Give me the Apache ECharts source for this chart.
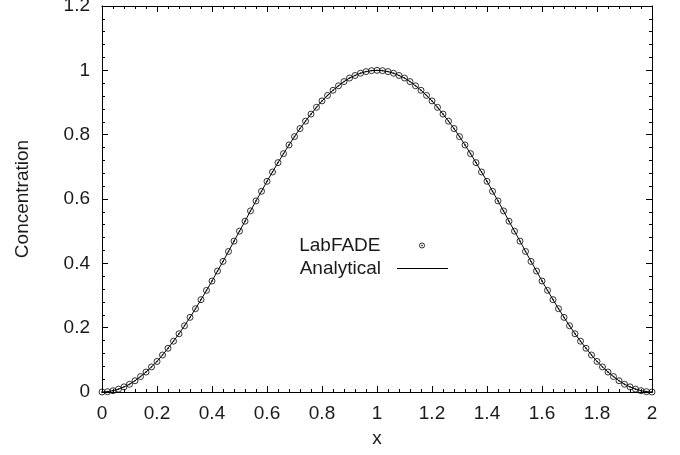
<!DOCTYPE html>
<html>
<head>
<meta charset="utf-8">
<script src="https://cdn.jsdelivr.net/npm/echarts@6/dist/echarts.min.js"></script>
<style>html,body{margin:0;padding:0;background:#fff}#c{width:680px;height:455px}</style>
</head>
<body>
<div id="c"></div>
<script>
const xs = [0.00,0.02,0.04,0.06,0.08,0.10,0.12,0.14,0.16,0.18,0.20,0.22,0.24,0.26,0.28,0.30,0.32,0.34,0.36,0.38,0.40,0.42,0.44,0.46,0.48,0.50,0.52,0.54,0.56,0.58,0.60,0.62,0.64,0.66,0.68,0.70,0.72,0.74,0.76,0.78,0.80,0.82,0.84,0.86,0.88,0.90,0.92,0.94,0.96,0.98,1.00,1.02,1.04,1.06,1.08,1.10,1.12,1.14,1.16,1.18,1.20,1.22,1.24,1.26,1.28,1.30,1.32,1.34,1.36,1.38,1.40,1.42,1.44,1.46,1.48,1.50,1.52,1.54,1.56,1.58,1.60,1.62,1.64,1.66,1.68,1.70,1.72,1.74,1.76,1.78,1.80,1.82,1.84,1.86,1.88,1.90,1.92,1.94,1.96,1.98,2.00];
const labfade = [0.000,0.001,0.004,0.009,0.016,0.024,0.035,0.048,0.062,0.078,0.095,0.115,0.136,0.158,0.181,0.206,0.232,0.259,0.287,0.316,0.345,0.376,0.406,0.437,0.469,0.500,0.531,0.563,0.594,0.624,0.655,0.684,0.713,0.741,0.768,0.794,0.819,0.842,0.864,0.885,0.905,0.922,0.938,0.952,0.965,0.976,0.984,0.991,0.996,0.999,1.000,0.999,0.996,0.991,0.984,0.976,0.965,0.952,0.938,0.922,0.905,0.885,0.864,0.842,0.819,0.794,0.768,0.741,0.713,0.684,0.655,0.624,0.594,0.563,0.531,0.500,0.469,0.437,0.406,0.376,0.345,0.316,0.287,0.259,0.232,0.206,0.181,0.158,0.136,0.115,0.095,0.078,0.062,0.048,0.035,0.024,0.016,0.009,0.004,0.001,0.000];
const analytical = [0.000,0.001,0.004,0.009,0.016,0.024,0.035,0.048,0.062,0.078,0.095,0.115,0.136,0.158,0.181,0.206,0.232,0.259,0.287,0.316,0.345,0.376,0.406,0.437,0.469,0.500,0.531,0.563,0.594,0.624,0.655,0.684,0.713,0.741,0.768,0.794,0.819,0.842,0.864,0.885,0.905,0.922,0.938,0.952,0.965,0.976,0.984,0.991,0.996,0.999,1.000,0.999,0.996,0.991,0.984,0.976,0.965,0.952,0.938,0.922,0.905,0.885,0.864,0.842,0.819,0.794,0.768,0.741,0.713,0.684,0.655,0.624,0.594,0.563,0.531,0.500,0.469,0.437,0.406,0.376,0.345,0.316,0.287,0.259,0.232,0.206,0.181,0.158,0.136,0.115,0.095,0.078,0.062,0.048,0.035,0.024,0.016,0.009,0.004,0.001,0.000];
const seriesNames = ['LabFADE', 'Analytical'];
const xTitle = 'x';
const yTitle = 'Concentration';

const FONT = "'Liberation Sans', Arial, Helvetica, sans-serif";
const FS = 19;
const TXT = '#1a1a1a';
const marker = 'path://M0,-10A10,10 0 1 1 0,10A10,10 0 1 1 0,-10Z M0,-1.6A1.6,1.6 0 1 1 0,1.6A1.6,1.6 0 1 1 0,-1.6Z';
// legend sample: same ring+dot marker, padded to the 51x5 sample box
const legendMarker = 'path://M-25.5,-2.6 M25.5,2.6 M0,-2.6A2.6,2.6 0 1 1 0,2.6A2.6,2.6 0 1 1 0,-2.6Z M0,-0.5A0.5,0.5 0 1 1 0,0.5A0.5,0.5 0 1 1 0,-0.5Z';

function axisBase(extra) {
  return Object.assign({
    type: 'value',
    axisLine: { show: true, onZero: false, lineStyle: { color: '#000', width: 1 } },
    axisTick: { show: true, inside: true, length: 6, lineStyle: { color: '#000', width: 1 } },
    minorTick: { show: true, splitNumber: 5, length: 3, lineStyle: { color: '#000', width: 1 } },
    splitLine: { show: false },
    minorSplitLine: { show: false }
  }, extra);
}

const chart = echarts.init(document.getElementById('c'), null, { renderer: 'canvas' });
chart.setOption({
  animation: false,
  backgroundColor: '#fff',
  grid: { left: 102, right: 28, top: 6, bottom: 63, containLabel: false, outerBoundsMode: 'none' },
  xAxis: [
    axisBase({ position: 'bottom', min: 0, max: 2, interval: 0.2,
      name: xTitle, nameLocation: 'middle', nameGap: 37,
      nameTextStyle: { fontSize: FS, fontFamily: FONT, color: TXT },
      axisLabel: { show: true, margin: 12, fontSize: FS, fontFamily: FONT, color: TXT } }),
    axisBase({ position: 'top', min: 0, max: 2, interval: 0.2, axisLabel: { show: false } })
  ],
  yAxis: [
    axisBase({ position: 'left', min: 0, max: 1.2, interval: 0.2,
      name: yTitle, nameLocation: 'middle', nameGap: 70, nameRotate: 90,
      nameTextStyle: { fontSize: FS, fontFamily: FONT, color: TXT },
      axisLabel: { show: true, margin: 12, fontSize: FS, fontFamily: FONT, color: TXT } }),
    axisBase({ position: 'right', min: 0, max: 1.2, interval: 0.2, axisLabel: { show: false } })
  ],
  legend: [
    { data: [{ name: seriesNames[0], icon: legendMarker }], right: 232, top: 236, orient: 'horizontal', align: 'right',
      itemWidth: 51, itemHeight: 5, padding: 0, selectedMode: false, symbolKeepAspect: false,
      itemStyle: { color: 'rgba(0,0,0,0)', borderColor: '#000', borderWidth: 1 },
      textStyle: { fontSize: FS, fontFamily: FONT, color: TXT, padding: [0, 11, 0, 0] } },
    { data: [{ name: seriesNames[1], icon: 'rect' }], right: 232, top: 259, orient: 'horizontal', align: 'right',
      itemWidth: 51, itemHeight: 1, padding: 0, selectedMode: false,
      itemStyle: { color: '#000', borderWidth: 0 },
      textStyle: { fontSize: FS, fontFamily: FONT, color: TXT, padding: [0, 11, 0, 0] } }
  ],
  series: [
    { name: seriesNames[1], type: 'line', xAxisIndex: 0, yAxisIndex: 0,
      data: xs.map((x, i) => [x, analytical[i]]), symbol: 'none', showSymbol: false, smooth: false,
      lineStyle: { color: '#000', width: 1 }, itemStyle: { color: '#000' }, z: 2 },
    { name: seriesNames[0], type: 'scatter', xAxisIndex: 0, yAxisIndex: 0,
      data: xs.map((x, i) => [x, labfade[i]]), symbol: marker, symbolSize: 6, symbolKeepAspect: true,
      itemStyle: { color: 'rgba(0,0,0,0)', borderColor: '#000', borderWidth: 1 }, z: 3 }
  ]
});
</script>
</body>
</html>
